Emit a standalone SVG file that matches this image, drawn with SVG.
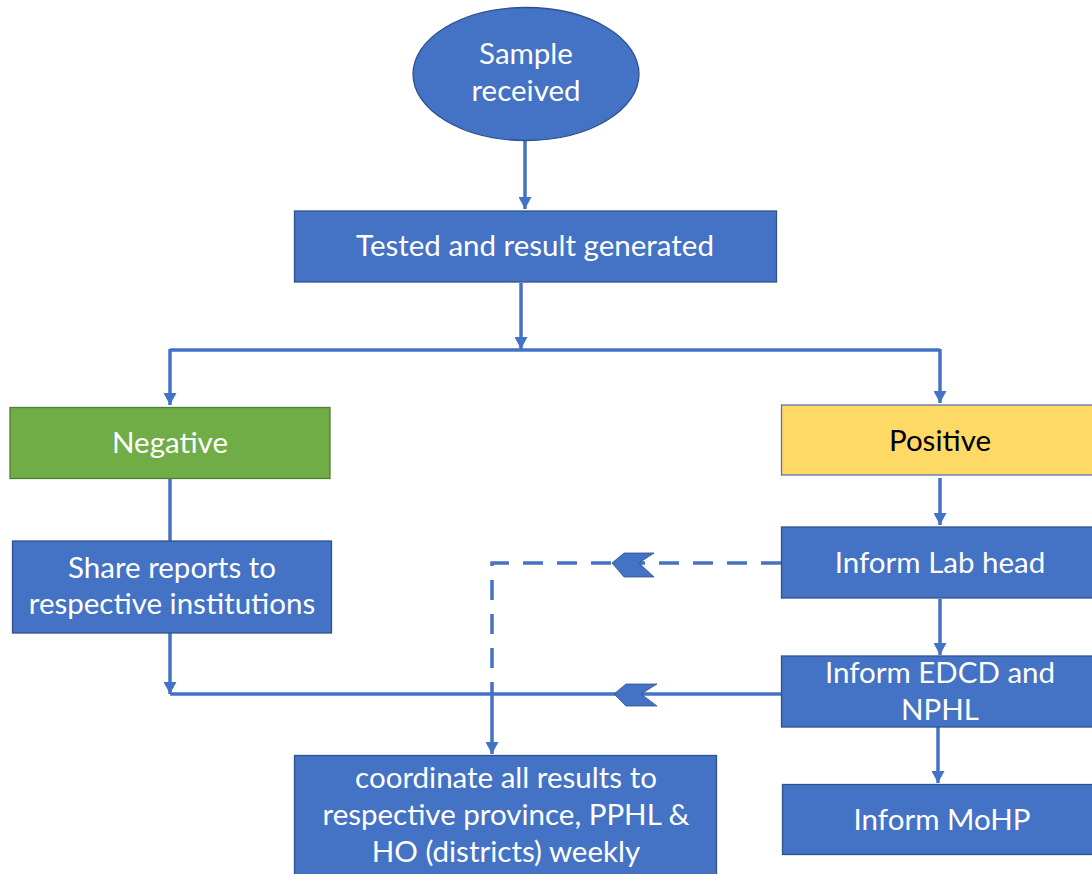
<svg xmlns="http://www.w3.org/2000/svg" width="1092" height="874" viewBox="0 0 1092 874">
<style>
.box{fill:#4472C4;stroke:#2F528F;stroke-width:1.3}
.neg{fill:#70AD47;stroke:#507E32;stroke-width:1.3}
.pos{fill:#FFD966;stroke:#5B74A8;stroke-width:1.3}
.t{font-family:Lato,"Liberation Sans",sans-serif;font-size:29.5px;fill:#FFFFFF;text-anchor:middle}
.tb{fill:#000000}
.ln{fill:none;stroke:#4472C4;stroke-width:3.5}
.dash{stroke-dasharray:20 14}
.chev{fill:#4472C4;stroke:#2F528F;stroke-width:0.8}
</style>
<defs>
<marker id="ah" markerWidth="12" markerHeight="13" viewBox="0 0 12 13" refX="12" refY="6.5" orient="auto" markerUnits="userSpaceOnUse">
<path d="M0,0 L12,6.5 L0,13 Z" fill="#4472C4"/>
</marker>
</defs>
<g id="connectors">
<path class="ln" d="M525,140 V209" marker-end="url(#ah)"/>
<path class="ln" d="M521,283 V349" marker-end="url(#ah)"/>
<path class="ln" d="M170,350 H940"/>
<path class="ln" d="M170,349 V405" marker-end="url(#ah)"/>
<path class="ln" d="M940,349 V403" marker-end="url(#ah)"/>
<path class="ln" d="M170,479 V541"/>
<path class="ln" d="M170,633 V694" marker-end="url(#ah)"/>
<path class="ln" d="M940,478 V525" marker-end="url(#ah)"/>
<path class="ln" d="M940,599 V655" marker-end="url(#ah)"/>
<path class="ln" d="M938,727 V783" marker-end="url(#ah)"/>
<path class="ln dash" d="M781,563 H492 V694"/>
<path class="ln" d="M781,694 H170"/>
<path class="ln" d="M492,692 V754" marker-end="url(#ah)"/>
<polygon class="chev" points="612,563 624,553 654,553 639,563 654,577 624,577"/>
<polygon class="chev" points="614,694 626,684 657,684 641,694 657,706 626,706"/>
</g>
<g id="sample">
<ellipse class="box" cx="526" cy="74" rx="113" ry="66.5"/>
<text class="t" x="526" y="64">Sample</text>
<text class="t" x="526" y="101">received</text>
</g>
<g id="tested">
<rect class="box" x="294.5" y="211" width="482" height="71"/>
<text class="t" x="535" y="256">Tested and result generated</text>
</g>
<g id="negative">
<rect class="neg" x="10" y="407.5" width="320" height="71"/>
<text class="t" x="170" y="453">Negative</text>
</g>
<g id="positive">
<rect class="pos" x="781.5" y="405" width="320" height="70"/>
<text class="t tb" x="940" y="451">Positive</text>
</g>
<g id="share">
<rect class="box" x="12.5" y="541" width="319" height="92"/>
<text class="t" x="172" y="578">Share reports to</text>
<text class="t" x="172" y="614">respective institutions</text>
</g>
<g id="labhead">
<rect class="box" x="781.5" y="527" width="320" height="71"/>
<text class="t" x="940" y="573">Inform Lab head</text>
</g>
<g id="edcd">
<rect class="box" x="781.5" y="656" width="320" height="71"/>
<text class="t" x="940" y="683">Inform EDCD and</text>
<text class="t" x="940" y="720">NPHL</text>
</g>
<g id="mohp">
<rect class="box" x="782.5" y="784.5" width="320" height="70"/>
<text class="t" x="942" y="830">Inform MoHP</text>
</g>
<g id="coordinate">
<rect class="box" x="294.5" y="755.5" width="422" height="130"/>
<text class="t" x="506" y="788">coordinate all results to</text>
<text class="t" x="506" y="825">respective province, PPHL &amp;</text>
<text class="t" x="506" y="862">HO (districts) weekly</text>
</g>
</svg>
